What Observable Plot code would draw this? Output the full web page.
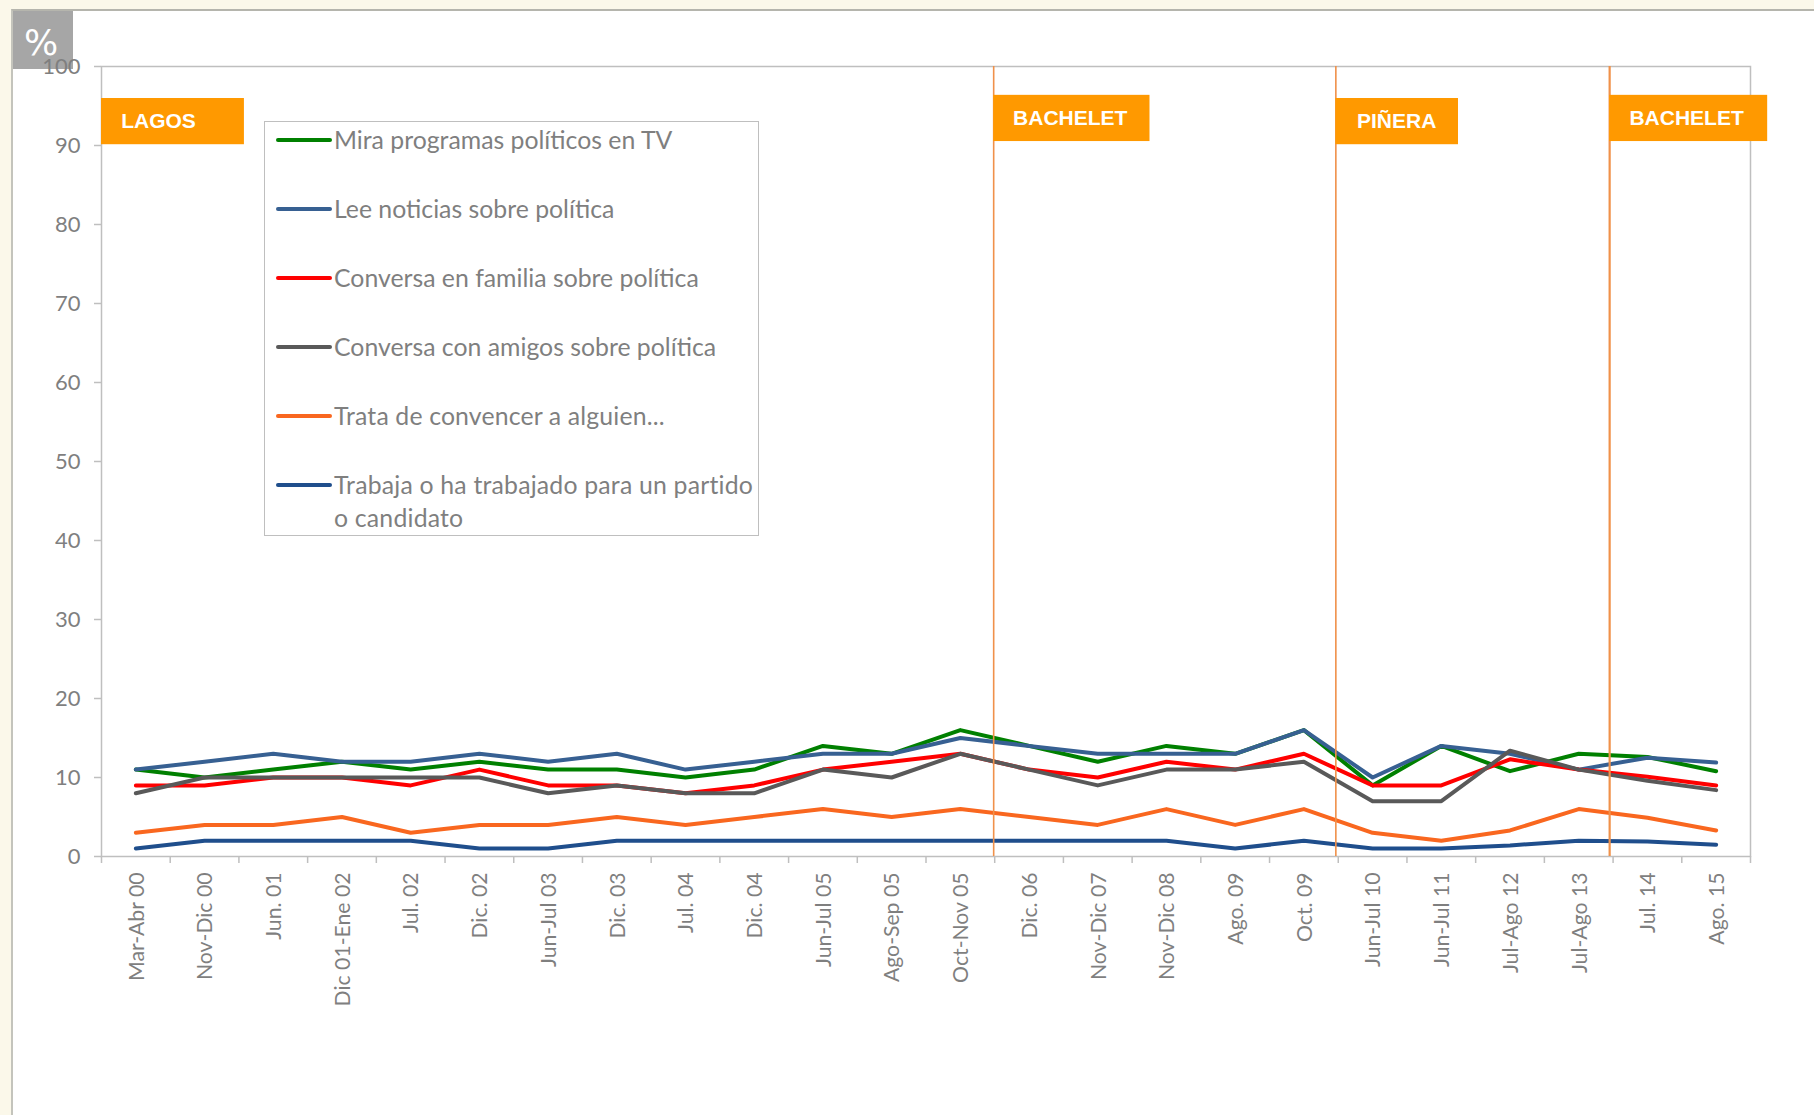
<!DOCTYPE html>
<html><head><meta charset="utf-8">
<script src="https://cdn.jsdelivr.net/npm/d3@7"></script>
<script src="https://cdn.jsdelivr.net/npm/@observablehq/plot@0.6"></script>
<style>
html,body{margin:0;padding:0;background:#fbf8ea;overflow:hidden}
#page{position:relative;width:1814px;height:1115px;overflow:hidden}
#panel{position:absolute;left:11px;top:9px;right:0;bottom:0;background:#fff;border-top:2px solid #b5b5ad;border-left:2px solid #c4c4bc}
#chart{position:absolute;left:0;top:0}
#chart svg{overflow:visible;background:transparent}
#pct{position:absolute;left:13px;top:11px;width:60px;height:58px;background:#a6a6a6;color:#fff;font:36px "DejaVu Sans",sans-serif;text-align:center;line-height:64px;text-indent:-4px}
#legend{position:absolute;left:264px;top:121px;width:493px;height:413px;border:1px solid #bfbfbf;background:#fff;font:24.8px Lato,sans-serif;color:#7f7f7f}
#legend .sw{position:absolute;left:11px;width:56px;height:4px;border-radius:2px}
#legend .lb{position:absolute;left:69px;width:425px;line-height:33px;white-space:pre}
</style></head><body>
<div id="page"><div id="panel"></div><div id="pct">%</div><div id="chart"></div><div id="legend"></div></div>
<script>
const periods = ["Mar-Abr 00","Nov-Dic 00","Jun. 01","Dic 01-Ene 02","Jul. 02","Dic. 02","Jun-Jul 03","Dic. 03","Jul. 04","Dic. 04","Jun-Jul 05","Ago-Sep 05","Oct-Nov 05","Dic. 06","Nov-Dic 07","Nov-Dic 08","Ago. 09","Oct. 09","Jun-Jul 10","Jun-Jul 11","Jul-Ago 12","Jul-Ago 13","Jul. 14","Ago. 15"];
const miraTV   = [11,10,11,12,11,12,11,11,10,11,14,13,16,14,12,14,13,16,9,14,10.8,13,12.6,10.8];
const leeNot   = [11,12,13,12,12,13,12,13,11,12,13,13,15,14,13,13,13,16,10,14,13,11,12.5,11.9];
const familia  = [9,9,10,10,9,11,9,9,8,9,11,12,13,11,10,12,11,13,9,9,12.3,11,10.1,9];
const amigos   = [8,10,10,10,10,10,8,9,8,8,11,10,13,11,9,11,11,12,7,7,13.4,11,9.6,8.4];
const convence = [3,4,4,5,3,4,4,5,4,5,6,5,6,5,4,6,4,6,3,2,3.3,6,4.9,3.3];
const trabaja  = [1,2,2,2,2,1,1,2,2,2,2,2,2,2,2,2,1,2,1,1,1.4,2,1.9,1.5];
const seriesNames = ["Mira programas políticos en TV","Lee noticias sobre política","Conversa en familia sobre política","Conversa con amigos sobre política","Trata de convencer a alguien...","Trabaja o ha trabajado para un partido\no candidato"];
const seriesValues = [miraTV,leeNot,familia,amigos,convence,trabaja];
const seriesColors = ["#008000","#376092","#ff0000","#595959","#f9671f","#1f4e8c"];
const yTicks = d3.range(0,101,10);
// Government changes, in category-slot units along x
const govNames = ["LAGOS","BACHELET","PIÑERA","BACHELET"];
const govLines = [12.985,17.965,21.95];
const govBoxX1 = [0,12.985,17.965,21.95];
const govBoxX2 = [2.08,15.26,19.75,24.25];
const govBoxY1 = [90.1,90.5,90.1,90.5];
const govBoxY2 = [95.95,96.35,95.95,96.35];
const govTextX = [0.83,14.1,18.85,23.07];

const rows = seriesValues.flatMap((vals,s)=>vals.map((v,i)=>({s,i:i+0.5,v})));
const govs = govNames.map((name,k)=>({name,x1:govBoxX1[k],x2:govBoxX2[k],y1:govBoxY1[k],y2:govBoxY2[k],tx:govTextX[k]}));

const grey="#bfbfbf";
const plot = Plot.plot({
  width:1814,height:1115,
  marginLeft:101,marginRight:64,marginTop:66,marginBottom:259,
  style:{background:"transparent",fontFamily:"Lato, sans-serif"},
  x:{domain:[0,24],label:null},
  y:{domain:[0,100],label:null},
  marks:[
    Plot.frame({stroke:grey,strokeWidth:1.5}),
    Plot.axisY({ticks:yTicks,tickSize:7,tickPadding:14,fontSize:22,color:"#7f7f7f",stroke:grey,strokeWidth:1.5,label:null,tickFormat:d=>String(d)}),
    Plot.axisX({ticks:d3.range(0,25),tickSize:7,tickFormat:()=>"",stroke:grey,strokeWidth:1.5,label:null}),
    Plot.axisX({ticks:periods.map((_,i)=>i+0.5),tickSize:0,tickPadding:16,tickRotate:-90,fontSize:21.2,dx:1,color:"#7f7f7f",label:null,
      tickFormat:d=>periods[d-0.5]}),
    ...seriesValues.map((_,s)=>Plot.line(rows.filter(r=>r.s===s),{x:"i",y:"v",stroke:seriesColors[s],strokeWidth:4,strokeLinejoin:"round",curve:"linear"})),
    Plot.ruleX(govLines,{y1:0,y2:100,stroke:"#f0914a",strokeWidth:(d,i)=>i===2?2.2:1.6}),
    Plot.rect(govs,{x1:"x1",x2:"x2",y1:"y1",y2:"y2",fill:"#ff9900"}),
    Plot.text(govs,{x:"tx",y:d=>(d.y1+d.y2)/2,text:"name",fill:"#fff",fontFamily:"Liberation Sans",fontWeight:"bold",fontSize:21})
  ]
});
document.getElementById("chart").append(plot);

const legend=document.getElementById("legend");
const rowTop=[0,69,138,207,276,345];
const rowSpacing=[0,0,0,0,0.15,0.2];
seriesNames.forEach((n,k)=>{
  const sw=document.createElement("div");sw.className="sw";sw.style.top=(16+rowTop[k])+"px";sw.style.background=seriesColors[k];
  const lb=document.createElement("div");lb.className="lb";lb.style.top=(1+rowTop[k])+"px";lb.style.letterSpacing=rowSpacing[k]+"px";lb.textContent=n;
  legend.append(sw,lb);
});
</script></body></html>
